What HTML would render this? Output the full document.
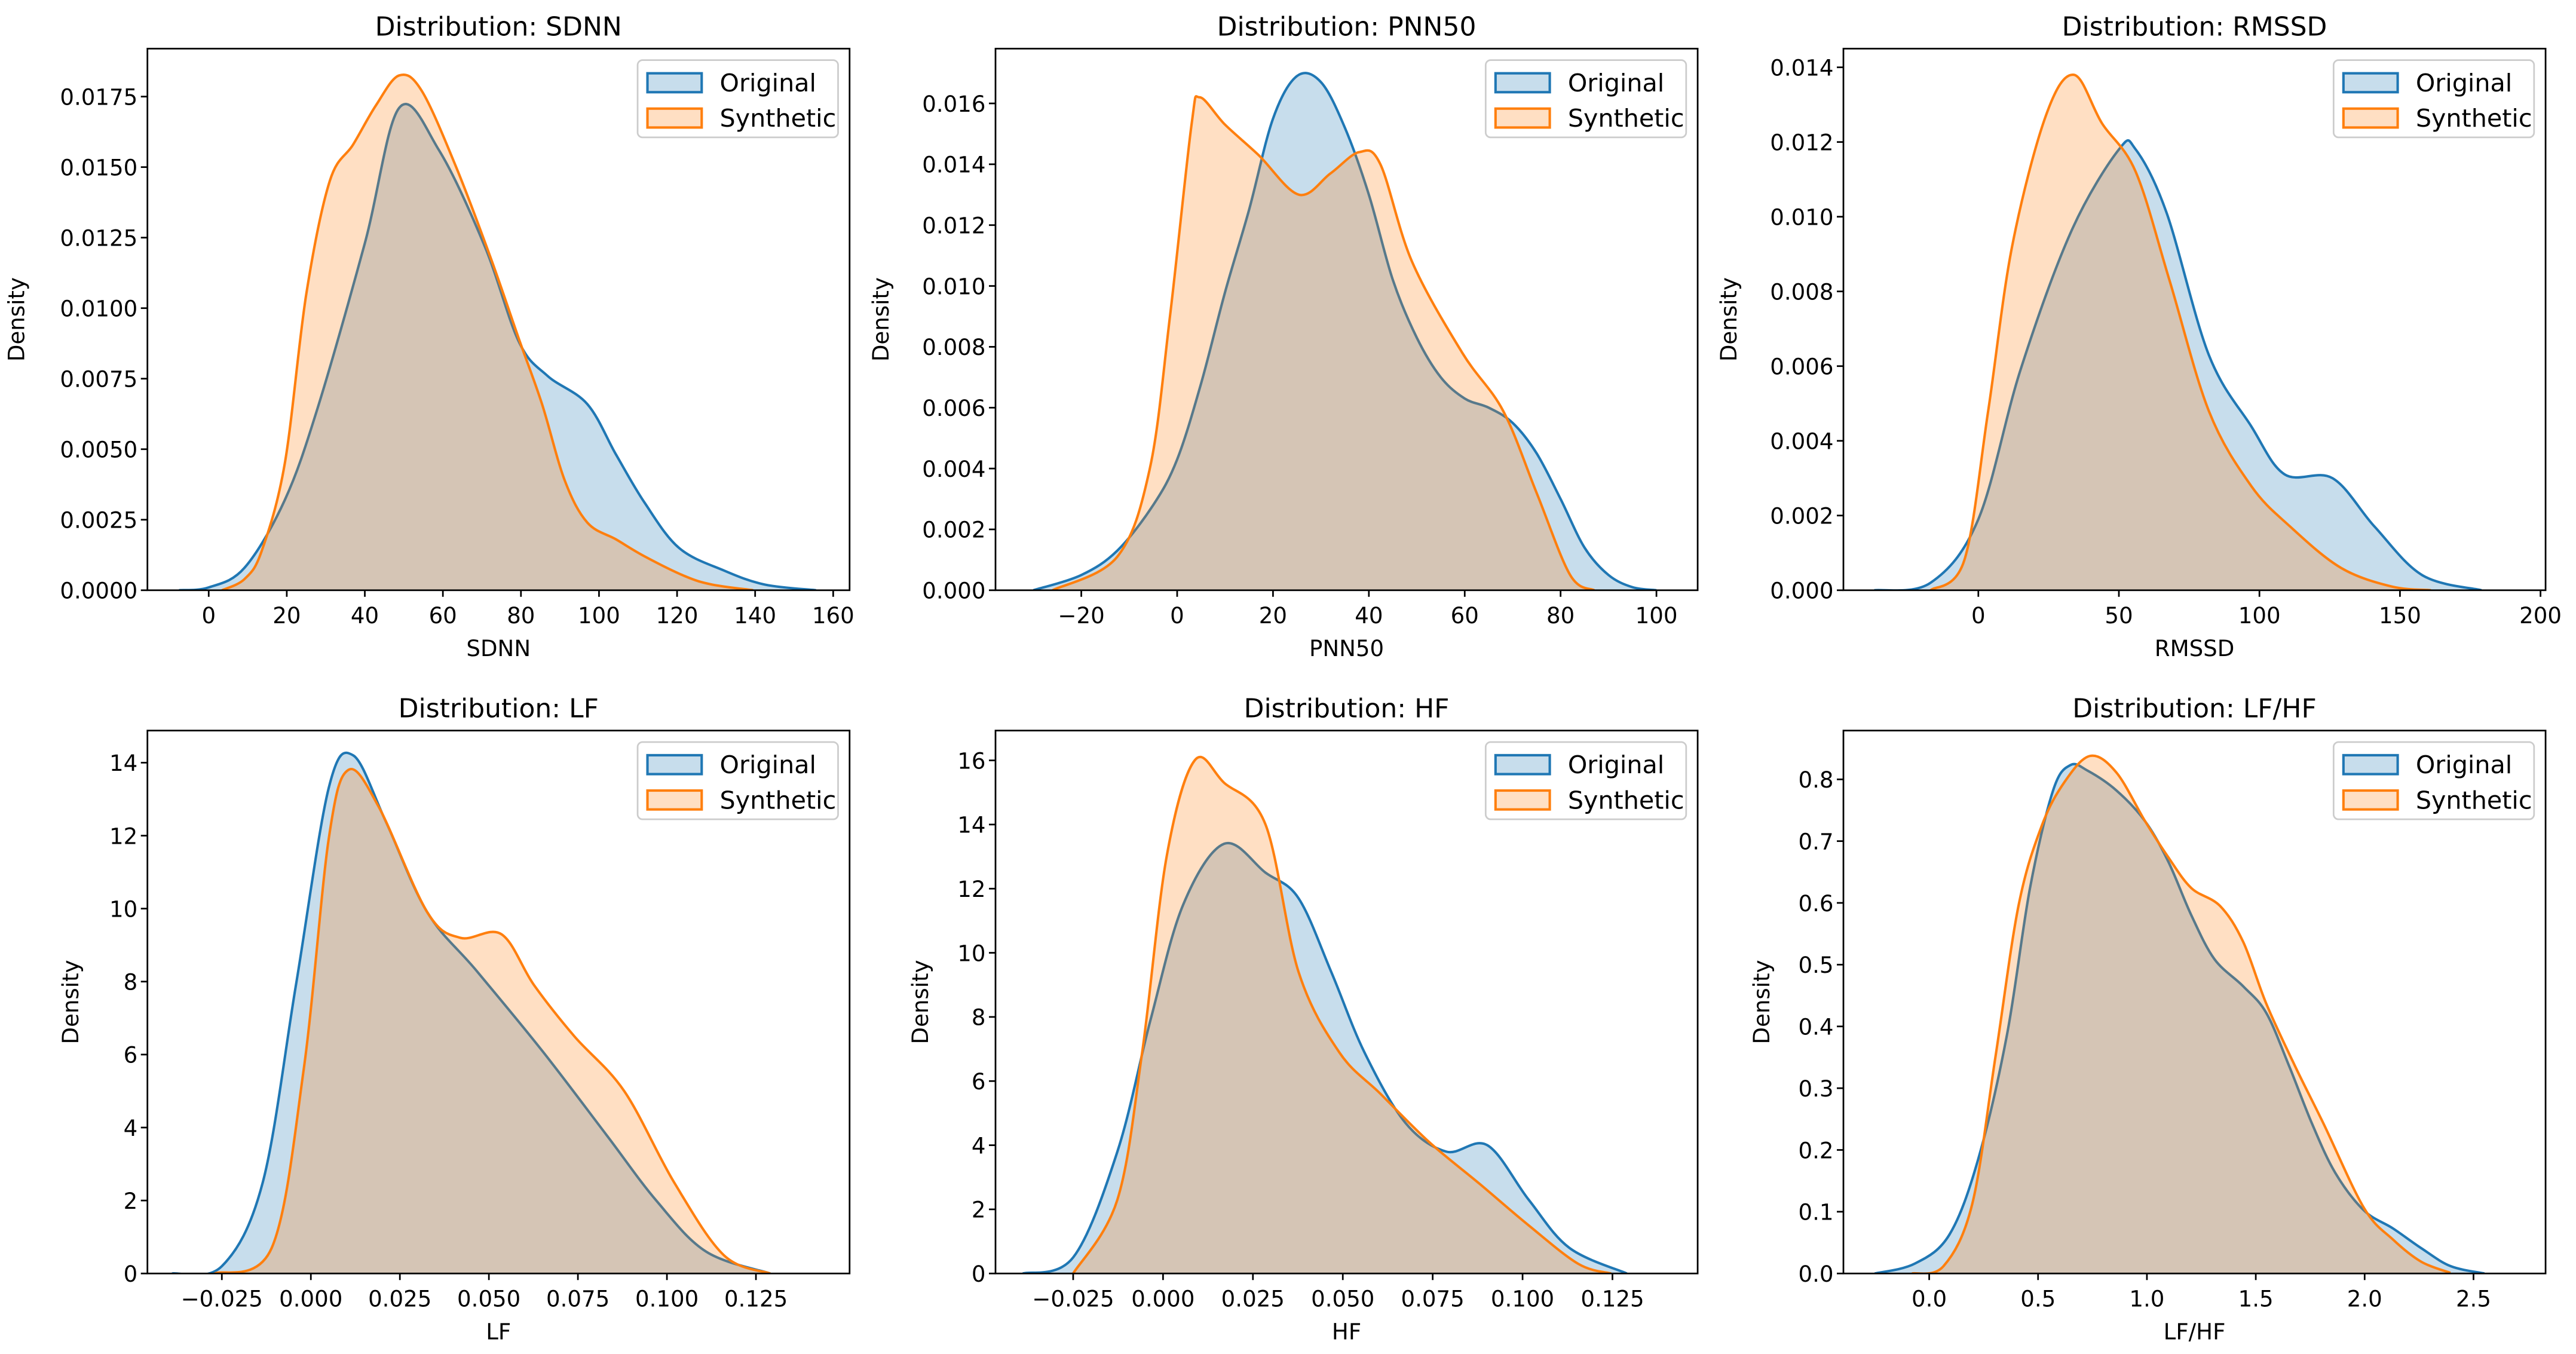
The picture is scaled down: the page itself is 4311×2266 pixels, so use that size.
<!DOCTYPE html>
<html><head><meta charset="utf-8"><style>
html,body{margin:0;padding:0;background:#fff;}
svg{display:block;}
text{font-family:"DejaVu Sans","Liberation Sans",sans-serif;fill:#000;}
</style></head><body>
<svg id="fig" width="4311" height="2266" viewBox="0 0 1567.6 824" xmlns="http://www.w3.org/2000/svg"></svg>
<script>
// ---- data ----
const titles = ["SDNN","PNN50","RMSSD","LF","HF","LF/HF"];
const sdnnOrigX = [-7.6,0,9.2,19.5,28,40,48.8,59,70.7,79.5,86.8,97,104.4,111.7,120.5,132,142.5,155.6];
const sdnnOrigY = [0,0.0001,0.0008,0.0032,0.0065,0.0123,0.0171,0.0156,0.0122,0.0088,0.0076,0.0066,0.0048,0.0031,0.0015,0.0007,0.0002,0];
const sdnnSynX = [3.4,9.2,13.6,19.5,25,31,37,42.9,48.8,54.6,63.4,72.2,79.5,85.4,91.2,97,104.4,111.7,122,129,139.5];
const sdnnSynY = [0,0.0004,0.0014,0.0045,0.0105,0.0145,0.0158,0.0172,0.01825,0.0177,0.015,0.0118,0.0089,0.0066,0.0039,0.0024,0.0018,0.0012,0.0005,0.0002,0];
const pnnOrigX = [-30,-20,-12.5,-5,0,5,10,15,20,25,30,35,40,45,50,55,60,65,70,75,80,85,90,95,100];
const pnnOrigY = [0,0.0005,0.0013,0.0028,0.0043,0.0068,0.0098,0.0125,0.0155,0.0169,0.0167,0.0152,0.013,0.0102,0.0083,0.007,0.0063,0.006,0.0055,0.0045,0.003,0.0014,0.0005,0.0001,0];
const pnnSynX = [-26,-12.5,-5.7,-1.5,3,4.7,10,17,25.4,32,38,42.4,49,59.5,68,75,82,87];
const pnnSynY = [0,0.0011,0.004,0.009,0.0153,0.0162,0.0153,0.0143,0.013,0.0137,0.0144,0.014,0.0108,0.0078,0.0059,0.0032,0.0005,0];
const rmsOrigX = [-37,-17,0,15,33,50,56,67,82,97,109,126,141,158,179];
const rmsOrigY = [0,0.0002,0.0019,0.0059,0.0096,0.0118,0.0118,0.0101,0.0063,0.0044,0.0031,0.003,0.0017,0.0004,0];
const rmsSynX = [-17,-5,3.5,12,24,34,44,56,68,82,97,111,129,147,161];
const rmsSynY = [0,0.0008,0.0048,0.0092,0.0127,0.0138,0.0125,0.0112,0.0083,0.0048,0.0028,0.0017,0.0006,0.0001,0];
const lfOrigX = [-0.039,-0.025,-0.0135,-0.0042,0.005,0.0119,0.021,0.0327,0.0465,0.065,0.083,0.097,0.111,0.129];
const lfOrigY = [0,0.2,2.5,7.9,13.3,14.2,12.4,9.9,8.3,6.1,3.8,2.0,0.6,0];
const lfSynX = [-0.027,-0.011,-0.002,0.005,0.0105,0.019,0.0327,0.042,0.0535,0.0627,0.074,0.088,0.102,0.116,0.129];
const lfSynY = [0,0.7,5.6,11.9,13.8,12.8,9.9,9.2,9.3,7.9,6.5,5.0,2.5,0.5,0];
const hfOrigX = [-0.039,-0.025,-0.0127,-0.0035,0.0056,0.017,0.0285,0.0377,0.0468,0.056,0.0674,0.0788,0.0902,0.1017,0.113,0.129];
const hfOrigY = [0,0.5,3.8,7.9,11.5,13.4,12.5,11.7,9.4,6.9,4.7,3.8,4.0,2.3,0.8,0];
const hfSynX = [-0.025,-0.0127,-0.0058,0.001,0.0088,0.017,0.0285,0.0377,0.049,0.0605,0.074,0.088,0.1017,0.1155,0.1246];
const hfSynY = [0,2.3,6.9,13,16,15.3,14,9.4,6.9,5.6,4.1,2.8,1.5,0.3,0];
const ratioOrigX = [-0.25,-0.066,0.093,0.225,0.357,0.463,0.569,0.648,0.728,0.86,0.992,1.098,1.204,1.31,1.442,1.548,1.653,1.759,1.865,1.997,2.13,2.26,2.394,2.55];
const ratioOrigY = [0,0.016,0.063,0.185,0.386,0.624,0.782,0.823,0.814,0.782,0.732,0.667,0.58,0.509,0.465,0.422,0.336,0.242,0.163,0.102,0.073,0.041,0.012,0];
const ratioSynX = [-0.079,0.066,0.198,0.304,0.41,0.516,0.622,0.74,0.86,0.992,1.098,1.204,1.336,1.442,1.548,1.68,1.812,1.997,2.13,2.26,2.394];
const ratioSynY = [0,0.012,0.113,0.35,0.595,0.724,0.796,0.838,0.811,0.732,0.674,0.624,0.595,0.537,0.437,0.336,0.242,0.106,0.055,0.019,0.001];
const xTicks = [[0,20,40,60,80,100,120,140,160],[-20,0,20,40,60,80,100],[0,50,100,150,200],
  [-0.025,0,0.025,0.05,0.075,0.1,0.125],[-0.025,0,0.025,0.05,0.075,0.1,0.125],[0,0.5,1,1.5,2,2.5]];
const yTicks = [[0,0.0025,0.005,0.0075,0.01,0.0125,0.015,0.0175],[0,0.002,0.004,0.006,0.008,0.01,0.012,0.014,0.016],
  [0,0.002,0.004,0.006,0.008,0.01,0.012,0.014],[0,2,4,6,8,10,12,14],[0,2,4,6,8,10,12,14,16],[0,0.1,0.2,0.3,0.4,0.5,0.6,0.7,0.8]];
const xDec = [0,0,0,3,3,1];
const yDec = [4,3,3,0,0,1];
const xDomains = [[-15.7,164.2],[-37.9,108.6],[-48,201.8],[-0.0459,0.1513],[-0.0466,0.1487],[-0.394,2.831]];
const yDomains = [[0,0.0192],[0,0.0178],[0,0.0145],[0,14.88],[0,16.93],[0,0.879]];
const series = [[sdnnOrigX,sdnnOrigY,sdnnSynX,sdnnSynY],[pnnOrigX,pnnOrigY,pnnSynX,pnnSynY],[rmsOrigX,rmsOrigY,rmsSynX,rmsSynY],
  [lfOrigX,lfOrigY,lfSynX,lfSynY],[hfOrigX,hfOrigY,hfSynX,hfSynY],[ratioOrigX,ratioOrigY,ratioSynX,ratioSynY]];
// ---- layout ----
const lefts=[89.7,605.8,1121.8], W=427.3;
const tops=[29.6,444.6], H=[329.6,330.4];
const ylabOff=[75,65,65,42,41,45];
const NS="http://www.w3.org/2000/svg";
const svg=document.getElementById('fig');
function mk(tag,attrs,parent){const e=document.createElementNS(NS,tag);for(const k in attrs)e.setAttribute(k,attrs[k]);(parent||svg).appendChild(e);return e;}
function fmt(v,d){let s=v.toFixed(d);if(v<0)s='\u2212'+s.slice(1);return s;}
function smooth(pts){let d='M'+pts[0][0]+','+pts[0][1];for(let i=0;i<pts.length-1;i++){const p0=pts[i-1]||pts[i],p1=pts[i],p2=pts[i+1],p3=pts[i+2]||p2;
 const c1x=p1[0]+(p2[0]-p0[0])/6,c1y=p1[1]+(p2[1]-p0[1])/6,c2x=p2[0]-(p3[0]-p1[0])/6,c2y=p2[1]-(p3[1]-p1[1])/6;
 d+=' C'+c1x+','+c1y+' '+c2x+','+c2y+' '+p2[0]+','+p2[1];}return d;}
for(let i=0;i<6;i++){
 const col=i%3,row=Math.floor(i/3);
 const L=lefts[col],T=tops[row],h=H[row],B=T+h,R=L+W;
 const xd=xDomains[i],yd=yDomains[i];
 const sx=v=>L+(v-xd[0])/(xd[1]-xd[0])*W, sy=v=>B-(v-yd[0])/(yd[1]-yd[0])*h;
 const g=mk('g',{});
 
 
 const cp=mk('clipPath',{id:'c'+i},g);mk('rect',{x:L,y:T,width:W,height:h},cp);
 const s=series[i];
 const names=['original','synthetic'],cols=['#1f77b4','#ff7f0e'],fills=['rgba(31,119,180,0.25)','rgba(255,127,14,0.25)'];
 for(let k=0;k<2;k++){
  const X=s[k*2],Y=s[k*2+1];const pts=X.map((x,j)=>[sx(x),sy(Y[j])]);
  const d=smooth(pts);
  const f=mk('path',{d:d+' L'+pts[pts.length-1][0]+','+B+' L'+pts[0][0]+','+B+' Z',fill:fills[k],stroke:'none','clip-path':'url(#c'+i+')'},g);
  
  
  const l=mk('path',{d:d,fill:'none',stroke:cols[k],'stroke-width':1.5,'clip-path':'url(#c'+i+')'},g);
  
  
 }
 const fr=mk('rect',{x:L,y:T,width:W,height:h,fill:'none',stroke:'#000','stroke-width':1},g);
 
 
 xTicks[i].forEach(v=>{const x=sx(v);mk('line',{x1:x,y1:B,x2:x,y2:B+4,stroke:'#000','stroke-width':1},g);
  const t=mk('text',{x:x,y:B+20,'font-size':13.5,'text-anchor':'middle'},g);t.textContent=fmt(v,xDec[i]);
  
  });
 yTicks[i].forEach(v=>{const y=sy(v);mk('line',{x1:L-4,y1:y,x2:L,y2:y,stroke:'#000','stroke-width':1},g);
  const t=mk('text',{x:L-6,y:y+5,'font-size':13.5,'text-anchor':'end'},g);t.textContent=fmt(v,yDec[i]);
  
  });
 const tt=mk('text',{x:L+W/2,y:T-8,'font-size':16,'text-anchor':'middle'},g);tt.textContent='Distribution: '+titles[i];
 
 
 const xl=mk('text',{x:L+W/2,y:B+40,'font-size':13.5,'text-anchor':'middle'},g);xl.textContent=titles[i];
 
 
 const yx=L-ylabOff[i],yy=T+h/2;
 const yl=mk('text',{x:yx,y:yy,'font-size':13.5,'text-anchor':'middle',transform:'rotate(-90 '+yx+' '+yy+')'},g);yl.textContent='Density';
 
 
 const lg=mk('g',{},g);
 
 
 const lx=R-129,ly=T+7;
 mk('rect',{x:lx,y:ly,width:122,height:47,rx:3,fill:'rgba(255,255,255,0.8)',stroke:'#ccc','stroke-width':1},lg);
 ['Original','Synthetic'].forEach((n,k)=>{const yy2=ly+8+k*21.5;
  mk('rect',{x:lx+6,y:yy2,width:33,height:11.5,fill:fills[k],stroke:cols[k],'stroke-width':1.5},lg);
  const t=mk('text',{x:lx+50,y:yy2+11,'font-size':15},lg);t.textContent=n;
  
  });
}
</script>
</body></html>
